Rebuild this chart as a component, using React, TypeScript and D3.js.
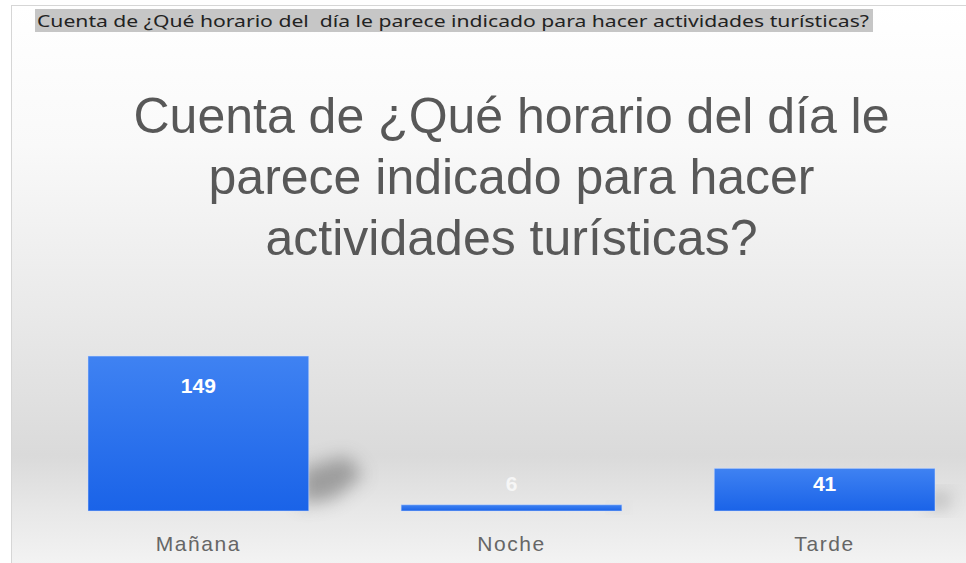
import React from "react";
import * as d3 from "d3";

const categories: string[] = ["Mañana", "Noche", "Tarde"];
const values: number[] = [149, 6, 41];
const titleLines: string[] = [
  "Cuenta de ¿Qué horario del día le",
  "parece indicado para hacer",
  "actividades turísticas?",
];
const fieldLabel = "Cuenta de ¿Qué horario del  día le parece indicado para hacer actividades turísticas?";

const W = 966;
const H = 563;

export default function App() {
  const x = d3.scaleBand<string>().domain(categories).range([88, 935]).paddingInner(0.295).paddingOuter(0);
  const y = d3.scaleLinear().domain([0, 150]).range([511, 355]);
  const bw = x.bandwidth();
  const base = y(0);

  return (
    <svg width={W} height={H} style={{ position: "absolute", left: 0, top: 0, display: "block" }}>
      <defs>
        <linearGradient id="bg" x1="0" y1="0" x2="0" y2="1">
          <stop offset="0" stopColor="#ffffff" />
          <stop offset="0.25" stopColor="#f9f9f9" />
          <stop offset="0.55" stopColor="#e9e9e9" />
          <stop offset="0.8" stopColor="#dadada" />
          <stop offset="0.9" stopColor="#e8e8e8" />
          <stop offset="1" stopColor="#f4f4f4" />
        </linearGradient>
        <linearGradient id="bar" x1="0" y1="0" x2="0" y2="1">
          <stop offset="0" stopColor="#3f82f2" />
          <stop offset="1" stopColor="#1a63e8" />
        </linearGradient>
        <filter id="blur" x="-80%" y="-80%" width="260%" height="260%">
          <feGaussianBlur stdDeviation="9" />
        </filter>
      </defs>
      <rect x={0} y={0} width={W} height={H} fill="#ffffff" />
      <rect x={11.5} y={5.5} width={W} height={H} fill="url(#bg)" stroke="#d6d6d6" strokeWidth={1} />
      {/* field label */}
      <rect x={35} y={9} width={838} height={23} fill="#c6c6c6" />
      <text
        x={37}
        y={26.5}
        fontFamily="'Noto Sans', 'Open Sans', sans-serif"
        fontSize={16.5}
        fill="#222222"
        textLength={832}
        lengthAdjust="spacingAndGlyphs"
        style={{ whiteSpace: "pre" }}
      >
        {fieldLabel}
      </text>
      {/* title */}
      {titleLines.map((t, i) => (
        <text
          key={i}
          x={511.5}
          y={133 + i * 61}
          textAnchor="middle"
          fontFamily="'Liberation Sans', Arial, sans-serif"
          fontSize={50}
          fill="#585858"
        >
          {t}
        </text>
      ))}
      {/* shadows */}
      {categories.map((c, i) => {
        const x1 = (x(c) as number) + bw;
        const h = base - y(values[i]);
        const s = Math.min(h * 0.3, 42);
        const pts = [
          [x1 - 8, base - 6],
          [x1 - 8, base - s * 1.0],
          [x1 + s * 0.9, base - s * 1.3],
          [x1 + s * 1.3, base - s * 0.85],
          [x1 + s * 0.6, base - s * 0.3],
        ];
        return (
          <polygon
            key={"s" + c}
            points={pts.map((p) => p.join(",")).join(" ")}
            fill="#5a5a5a"
            opacity={0.5}
            filter="url(#blur)"
          />
        );
      })}
      {/* bars */}
      {categories.map((c, i) => (
        <rect
          key={c}
          x={x(c)}
          y={y(values[i])}
          width={bw}
          height={base - y(values[i])}
          fill="url(#bar)"
          stroke="#cfe0ff"
          strokeOpacity={0.5}
          strokeWidth={1}
        />
      ))}
      {/* value labels */}
      {categories.map((c, i) => (
        <text
          key={"v" + c}
          x={(x(c) as number) + bw / 2}
          y={Math.min(y(values[i]) + 37, 491)}
          textAnchor="middle"
          fontFamily="'Liberation Sans', Arial, sans-serif"
          fontWeight="bold"
          fontSize={21}
          fill={values[i] < 10 ? "#f6f6f6" : "#ffffff"}
        >
          {values[i]}
        </text>
      ))}
      {/* category labels */}
      {categories.map((c) => (
        <text
          key={"c" + c}
          x={(x(c) as number) + bw / 2}
          y={551}
          textAnchor="middle"
          fontFamily="'Liberation Sans', Arial, sans-serif"
          fontSize={21}
          letterSpacing={1.6}
          fill="#666666"
        >
          {c}
        </text>
      ))}
    </svg>
  );
}
